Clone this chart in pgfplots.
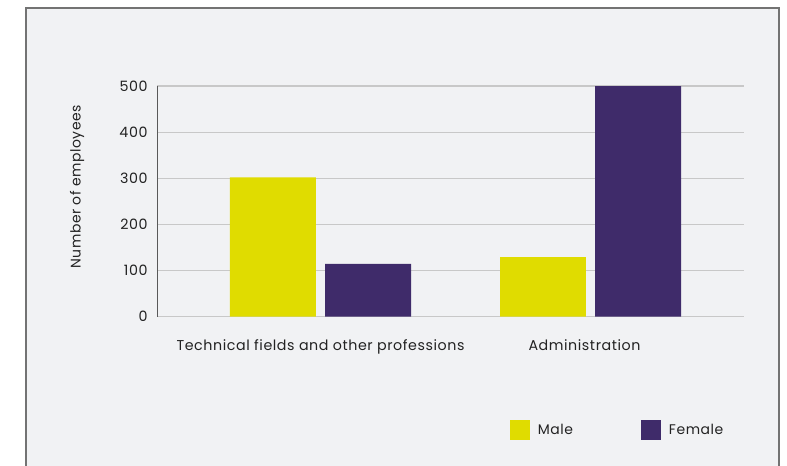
\documentclass[border=0pt]{standalone}
\usepackage{pgfplots}
\pgfplotsset{compat=1.18}
\usepackage{fontspec}
\setmainfont{Poppins}[LetterSpace=4]
\definecolor{panel}{HTML}{F1F2F4}
\definecolor{maleC}{HTML}{E0DC00}
\definecolor{femaleC}{HTML}{3F2B6A}
\definecolor{gridC}{HTML}{C8C8C8}
\definecolor{txt}{HTML}{222222}
\begin{document}
\begin{tikzpicture}[x=1bp,y=1bp]
\path[use as bounding box] (0,0) rectangle (787,-466);
\fill[panel] (26,-8) rectangle (779,-470);
\draw[color=gray!90!black, line width=1.2bp] (26,-470) -- (26,-8) -- (779,-8) -- (779,-470);
\node[rotate=90, font=\fontsize{14}{16}\selectfont, text=txt] at (77,-187) {Number of employees};
\begin{axis}[
  at={(157bp,-316.5bp)}, anchor=south west,
  scale only axis, width=587bp, height=230.5bp,
  xmin=-0.6056, xmax=1.5685, ymin=0, ymax=500,
  ytick={0,100,...,500},
  xtick={0,1}, xticklabels={Technical fields and other professions, Administration\rule{12bp}{0pt}},
  major tick length=0pt,
  ymajorgrids, grid style={gridC, line width=1.2bp},
  axis x line*=bottom, axis y line*=left,
  x axis line style={gridC, line width=1.2bp, -},
  y axis line style={gray!70!black, line width=0.9bp, -},
  tick label style={font=\fontsize{14.3}{16}\selectfont, text=txt},
  yticklabel style={xshift=-6bp},
  xticklabel style={yshift=-20bp},
  /pgf/number format/assume math mode=true,
  ybar, bar width=0.3185,
  legend style={at={(0.601,-0.4924)}, anchor=west, draw=none, fill=none,
    inner sep=0pt, outer sep=0pt,
    legend columns=2, font=\fontsize{14}{16}\selectfont, text=txt,
    /tikz/every even column/.append style={column sep=66bp}},
  legend image code/.code={\fill[#1] (0bp,-10bp) rectangle (20bp,10bp); \path (26bp,0bp);},
]
\addplot[fill=maleC, draw=none, bar shift=-0.176] coordinates {(0,302) (1,129)};
\addplot[fill=femaleC, draw=none, bar shift=0.176] coordinates {(0,114) (1,501)};
\legend{Male, Female}
\end{axis}
\end{tikzpicture}
\end{document}
